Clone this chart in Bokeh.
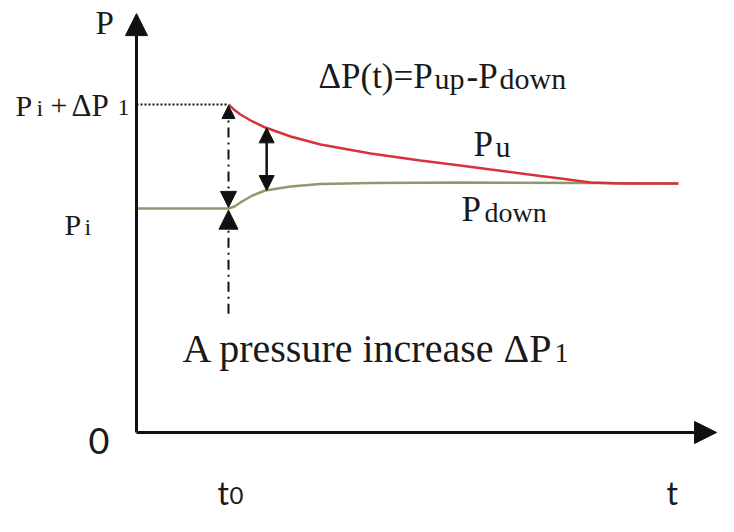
from bokeh.plotting import figure
from bokeh.models import Range1d, Arrow, NormalHead
from bokeh.embed import file_html
from bokeh.resources import INLINE
from bokeh.core.properties import value

# ---------------- data (schematic values) ----------------
# upstream pressure P_up (red), starting at t0 with Pi + dP1
t_up = [2.0, 2.13, 2.26, 2.52, 2.80, 3.35, 4.0, 5.09, 6.17, 7.04, 7.70, 8.78, 9.22, 9.87, 10.52, 11.78]
p_up = [2.929, 2.879, 2.839, 2.777, 2.723, 2.643, 2.571, 2.491, 2.429, 2.384, 2.348, 2.290,
        2.268, 2.232, 2.223, 2.223]

# downstream pressure P_down (green)
t_down = [0.0, 2.0, 2.13, 2.26, 2.37, 2.52, 2.80, 3.35, 4.0, 5.09, 7.04, 9.87, 11.78]
p_down = [2.0, 2.0, 2.018, 2.054, 2.080, 2.116, 2.161, 2.196, 2.219, 2.228, 2.232, 2.228, 2.223]

T0 = 2.0          # time of the pressure step
P_I = 2.0         # initial pressure Pi
P_PEAK = 2.929    # Pi + dP1
T_GAP = 2.83      # where the dP(t) double arrow is drawn
P_GAP_TOP = 2.72
P_GAP_BOT = 2.16
P_STEP_FROM = 1.06   # bottom of the dash-dot "pressure increase" arrow
T_AXIS_END = 12.61
P_AXIS_END = 3.74

# ---------------- figure ----------------
p = figure(width=718, height=516,
           x_range=Range1d(-2.9565, 12.6522), y_range=Range1d(-0.75, 3.8571),
           output_backend="svg", toolbar_location=None,
           x_axis_location=None, y_axis_location=None, min_border=0)
p.min_border_left = p.min_border_right = p.min_border_top = p.min_border_bottom = 0
p.grid.visible = False
p.outline_line_color = None
p.background_fill_color = "white"
p.border_fill_color = "white"

AX = "#111111"
RED = "#d8303c"
GREEN = "#8d9a6e"


def head(size):
    return NormalHead(size=size, fill_color=AX, line_color=AX, line_width=1)


# axes with arrow heads
p.add_layout(Arrow(end=head(22), x_start=0, y_start=0, x_end=0, y_end=P_AXIS_END,
                   line_width=3, line_color=AX))
p.add_layout(Arrow(end=head(22), x_start=0, y_start=0, x_end=T_AXIS_END, y_end=0,
                   line_width=3, line_color=AX))

# dotted reference line at Pi + dP1
p.line([0, T0], [P_PEAK, P_PEAK], line_color=AX, line_width=2, line_dash="2 2")

# curves
p.line(t_down, p_down, line_color=GREEN, line_width=2.5)
p.line(t_up, p_up, line_color=RED, line_width=2.5)

# dash-dot arrows at t0
p.add_layout(Arrow(start=head(13), end=head(16),
                   x_start=T0, y_start=P_PEAK - 0.01, x_end=T0, y_end=P_I + 0.01,
                   line_width=2, line_color=AX, line_dash="10 5 2 5"))
p.add_layout(Arrow(end=head(19),
                   x_start=T0, y_start=P_STEP_FROM, x_end=T0, y_end=P_I - 0.015,
                   line_width=2, line_color=AX, line_dash="10 5 2 5"))

# solid double arrow: dP(t)
p.add_layout(Arrow(start=head(15), end=head(15),
                   x_start=T_GAP, y_start=P_GAP_TOP, x_end=T_GAP, y_end=P_GAP_BOT,
                   line_width=2.5, line_color=AX))

# ---------------- texts (anchored at their vertical middle) ----------------
SERIF = "Liberation Serif"
SANS = "Lato"


def add_text(items, size, font):
    p.text(x=[i[1] for i in items], y=[i[2] for i in items], text=[i[0] for i in items],
           text_font=value(font), text_font_size=value(size),
           text_align=value("left"), text_baseline=value("middle"),
           text_color="#1a1a1a")


add_text([("P", -0.8913, 3.6598)], "33px", SERIF)
add_text([("P", -2.6304, 2.9187), ("+", -1.8696, 2.9187), ("P", -1.5652, 1.8589)], "30px", SERIF)
add_text([("ΔP", -1.4130, 2.9214)], "31px", SERIF)
add_text([("i", -2.1739, 2.9009), ("1", -0.4130, 2.9009), ("i", -1.1304, 1.8384)], "24px", SERIF)
add_text([("0", -1.0435, -0.0723)], "36px", SANS)
add_text([("t", 1.7609, -0.5357), ("t", 11.5217, -0.5357)], "32px", SANS)
add_text([("0", 2.0217, -0.5625)], "24px", SANS)
add_text([("ΔP(t)=P", 3.9565, 3.1746), ("-P", 7.1739, 3.1746),
          ("P", 7.3261, 2.5674), ("P", 7.0652, 1.9871)], "35px", SERIF)
add_text([("up", 6.4783, 3.1598), ("down", 7.8913, 3.1598), ("u", 7.8043, 2.5527)], "30px", SERIF)
add_text([("down", 7.5652, 1.9664)], "28px", SERIF)
add_text([("A pressure increase ΔP", 1.0, 0.7482)], "40px", SERIF)
add_text([("1", 9.087, 0.7075)], "28px", SERIF)

open("out.html", "w").write(file_html(p, INLINE))
